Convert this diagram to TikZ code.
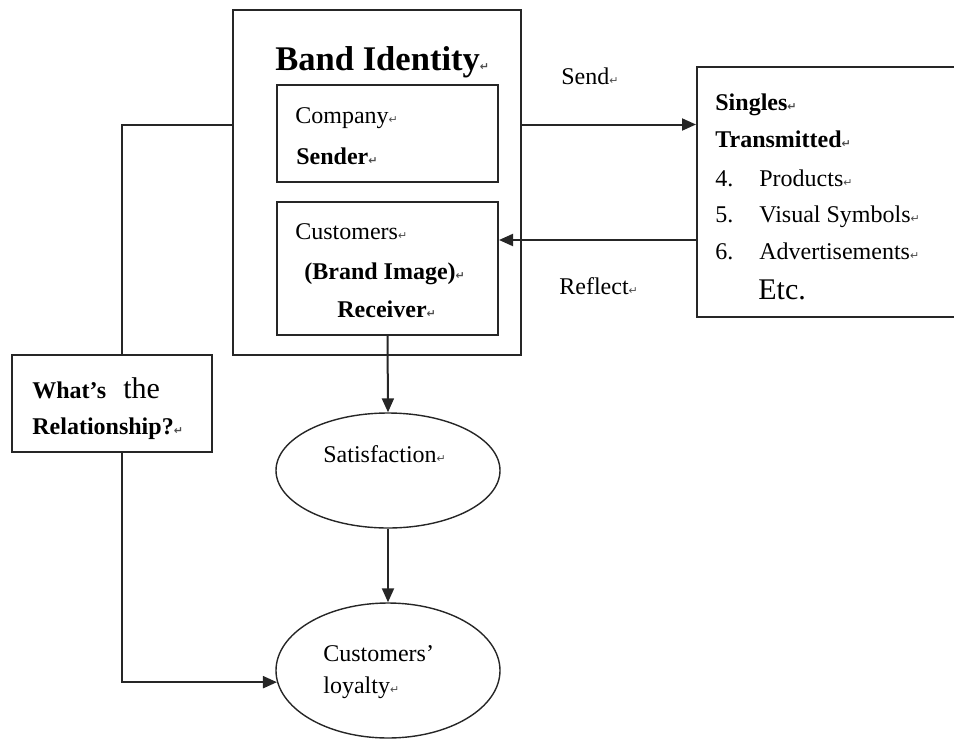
\documentclass[12pt,tikz,border=0pt]{standalone}
\usepackage{fontspec}
\setmainfont{Liberation Serif}
\newfontfamily\symfont{DejaVu Sans}
\usetikzlibrary{shapes.geometric,arrows.meta,positioning}
% Word-style paragraph mark after a line
\newcommand{\pmark}{{\symfont\fontsize{5.5}{5.5}\selectfont\color{black!70}\char"21B5}}

\begin{document}
\begin{tikzpicture}[x=0.5pt, y=-0.5pt,
    box/.style={draw=black!85, line width=1pt, inner sep=0pt},
    oval/.style={ellipse, draw=black!85, line width=0.7pt, inner sep=0pt},
    lbl/.style={anchor=base west, inner sep=0pt},
    arr/.style={-{Triangle[length=7pt,width=6pt]}, draw=black!85, line width=1pt}]
    \useasboundingbox (0,0) rectangle (954,740);

    % boxes and ovals
    \node [box, minimum width=144pt, minimum height=172.5pt] (identity) at (377,182.5) {};
    \node [box, minimum width=110.5pt, minimum height=48.5pt] (company) at (387.5,133.5) {};
    \node [box, minimum width=110.5pt, minimum height=66.5pt] (customers) at (387.5,268.5) {};
    \node [box, minimum width=140pt, minimum height=125pt] (signals) at (837,192) {};
    \node [box, minimum width=100pt, minimum height=48.5pt] (relation) at (112,403.5) {};
    \node [oval, minimum width=112pt, minimum height=57.5pt] (satisfaction) at (388,470.5) {};
    \node [oval, minimum width=112pt, minimum height=67.5pt] (loyalty) at (388,670.5) {};

    % texts
    \node [lbl, font=\Large\bfseries] (title) at (275,70) {Band Identity\pmark};
    \node [lbl] (company1) at (295,123) {Company\pmark};
    \node [lbl, font=\bfseries] (company2) at (296,164) {Sender\pmark};
    \node [lbl] (customers1) at (295,239) {Customers\pmark};
    \node [lbl, font=\bfseries] (customers2) at (304,279) {(Brand Image)\pmark};
    \node [lbl, font=\bfseries] (customers3) at (337,317) {Receiver\pmark};
    \node [lbl] (send) at (561,84) {Send\pmark};
    \node [lbl] (reflect) at (559,294) {Reflect\pmark};
    \node [lbl, font=\bfseries] (signals1) at (715,110) {Singles\pmark};
    \node [lbl, font=\bfseries] (signals2) at (715,147) {Transmitted\pmark};
    \node [lbl] (num4) at (715,186) {4.};
    \node [lbl] (item4) at (759,186) {Products\pmark};
    \node [lbl] (num5) at (715,222) {5.};
    \node [lbl] (item5) at (759,222) {Visual Symbols\pmark};
    \node [lbl] (num6) at (715,259) {6.};
    \node [lbl] (item6) at (759,259) {Advertisements\pmark};
    \node [lbl, font=\fontsize{15}{18}\selectfont] (etc) at (758,299) {Etc.};
    \node [lbl, font=\bfseries] (relation1) at (32,398) {What's};
    \node [lbl, font=\fontsize{15}{18}\selectfont] (the) at (123,398) {the};
    \node [lbl, font=\bfseries] (relation2) at (32,434) {Relationship?\pmark};
    \node [lbl] (satisfaction1) at (323,462) {Satisfaction\pmark};
    \node [lbl] (loyalty1) at (323,661) {Customers’};
    \node [lbl] (loyalty2) at (323,693) {loyalty\pmark};

    % connectors
    \coordinate (turn) at (122,124.5);
    \coordinate (back) at (697,240);
    \draw [arr] (identity.east |- turn) -- (signals.west |- turn);
    \draw [arr] (signals.west |- back) -- (customers.east |- back);
    \draw [arr] (customers.south) -- (satisfaction.north);
    \draw [arr] (satisfaction.south) -- (loyalty.north);
    \draw [draw=black!85, line width=1pt] (identity.west |- turn) -- (turn) -- (turn |- relation.north);
    \draw [arr] (turn |- relation.south) |- (loyalty.186);
\end{tikzpicture}
\end{document}
